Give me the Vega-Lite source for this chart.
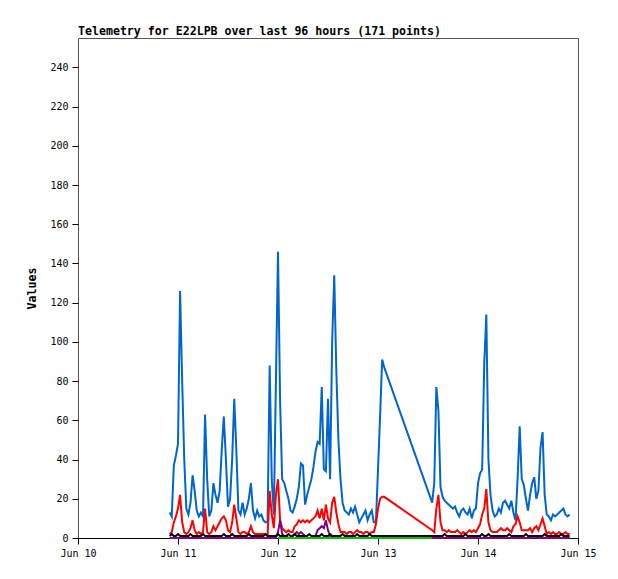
{
  "$schema": "https://vega.github.io/schema/vega-lite/v6.json",
  "width": 500,
  "height": 500,
  "autosize": {"type": "none"},
  "padding": {"left": 78, "top": 38, "right": 40, "bottom": 41},
  "background": "white",
  "title": {
    "text": "Telemetry for E22LPB over last 96 hours (171 points)",
    "anchor": "start",
    "frame": "group",
    "font": "DejaVu Sans Mono",
    "fontSize": 11.6,
    "fontWeight": "bold",
    "color": "black",
    "offset": 0
  },
  "data": {
    "values": [
      {"t": "2023-06-10T22:00:00Z", "b": 13, "r": 2, "p": 0, "k": 1},
      {"t": "2023-06-10T22:30:00Z", "b": 11, "r": 3, "p": 0, "k": 2},
      {"t": "2023-06-10T23:00:00Z", "b": 37, "r": 8, "p": 0, "k": 1},
      {"t": "2023-06-10T23:30:00Z", "b": 42, "r": 11, "p": 0, "k": 1},
      {"t": "2023-06-11T00:00:00Z", "b": 48, "r": 15, "p": 0, "k": 2},
      {"t": "2023-06-11T00:30:00Z", "b": 126, "r": 22, "p": 0, "k": 1},
      {"t": "2023-06-11T01:00:00Z", "b": 80, "r": 8, "p": 0, "k": 1},
      {"t": "2023-06-11T01:30:00Z", "b": 40, "r": 3, "p": 0, "k": 1},
      {"t": "2023-06-11T02:00:00Z", "b": 15, "r": 2, "p": 0, "k": 1},
      {"t": "2023-06-11T02:30:00Z", "b": 12, "r": 3, "p": 0, "k": 1},
      {"t": "2023-06-11T03:00:00Z", "b": 18, "r": 5, "p": 0, "k": 2},
      {"t": "2023-06-11T03:30:00Z", "b": 32, "r": 9, "p": 0, "k": 1},
      {"t": "2023-06-11T04:00:00Z", "b": 24, "r": 4, "p": 0, "k": 1},
      {"t": "2023-06-11T04:30:00Z", "b": 14, "r": 2, "p": 0, "k": 1},
      {"t": "2023-06-11T05:00:00Z", "b": 11, "r": 3, "p": 0, "k": 1},
      {"t": "2023-06-11T05:30:00Z", "b": 13, "r": 2, "p": 0, "k": 1},
      {"t": "2023-06-11T06:00:00Z", "b": 11, "r": 3, "p": 0, "k": 2},
      {"t": "2023-06-11T06:30:00Z", "b": 63, "r": 15, "p": 0, "k": 1},
      {"t": "2023-06-11T07:00:00Z", "b": 30, "r": 3, "p": 0, "k": 1},
      {"t": "2023-06-11T07:30:00Z", "b": 11, "r": 2, "p": 0, "k": 1},
      {"t": "2023-06-11T08:00:00Z", "b": 14, "r": 3, "p": 0, "k": 1},
      {"t": "2023-06-11T08:30:00Z", "b": 28, "r": 6, "p": 0, "k": 1},
      {"t": "2023-06-11T09:00:00Z", "b": 22, "r": 4, "p": 0, "k": 1},
      {"t": "2023-06-11T09:30:00Z", "b": 18, "r": 6, "p": 0, "k": 1},
      {"t": "2023-06-11T10:00:00Z", "b": 24, "r": 8, "p": 0, "k": 1},
      {"t": "2023-06-11T10:30:00Z", "b": 45, "r": 10, "p": 0, "k": 1},
      {"t": "2023-06-11T11:00:00Z", "b": 62, "r": 11, "p": 0, "k": 2},
      {"t": "2023-06-11T11:30:00Z", "b": 40, "r": 9, "p": 0, "k": 1},
      {"t": "2023-06-11T12:00:00Z", "b": 16, "r": 4, "p": 0, "k": 1},
      {"t": "2023-06-11T12:30:00Z", "b": 20, "r": 3, "p": 0, "k": 1},
      {"t": "2023-06-11T13:00:00Z", "b": 40, "r": 8, "p": 0, "k": 2},
      {"t": "2023-06-11T13:30:00Z", "b": 71, "r": 17, "p": 0, "k": 1},
      {"t": "2023-06-11T14:00:00Z", "b": 45, "r": 10, "p": 0, "k": 1},
      {"t": "2023-06-11T14:30:00Z", "b": 14, "r": 3, "p": 0, "k": 1},
      {"t": "2023-06-11T15:00:00Z", "b": 12, "r": 2, "p": 0, "k": 1},
      {"t": "2023-06-11T15:30:00Z", "b": 18, "r": 3, "p": 0, "k": 1},
      {"t": "2023-06-11T16:00:00Z", "b": 12, "r": 3, "p": 0, "k": 1},
      {"t": "2023-06-11T16:30:00Z", "b": 15, "r": 2, "p": 0, "k": 1},
      {"t": "2023-06-11T17:00:00Z", "b": 20, "r": 3, "p": 0, "k": 2},
      {"t": "2023-06-11T17:30:00Z", "b": 28, "r": 6, "p": 0, "k": 1},
      {"t": "2023-06-11T18:00:00Z", "b": 14, "r": 3, "p": 0, "k": 1},
      {"t": "2023-06-11T18:30:00Z", "b": 10, "r": 2, "p": 0, "k": 1},
      {"t": "2023-06-11T19:00:00Z", "b": 14, "r": 2, "p": 0, "k": 1},
      {"t": "2023-06-11T19:30:00Z", "b": 11, "r": 2, "p": 0, "k": 1},
      {"t": "2023-06-11T20:00:00Z", "b": 12, "r": 2, "p": 0, "k": 1},
      {"t": "2023-06-11T20:30:00Z", "b": 9, "r": 2, "p": 0, "k": 1},
      {"t": "2023-06-11T21:00:00Z", "b": 8, "r": 2, "p": 0, "k": 2},
      {"t": "2023-06-11T21:30:00Z", "b": 8, "r": 1, "p": 0, "k": 1},
      {"t": "2023-06-11T22:00:00Z", "b": 88, "r": 24, "p": 0, "k": 1},
      {"t": "2023-06-11T22:30:00Z", "b": 30, "r": 12, "p": 0, "k": 1},
      {"t": "2023-06-11T23:00:00Z", "b": 12, "r": 5, "p": 0, "k": 1},
      {"t": "2023-06-11T23:30:00Z", "b": 80, "r": 22, "p": 0, "k": 1},
      {"t": "2023-06-12T00:00:00Z", "b": 146, "r": 30, "p": 3, "g": 0, "k": 2},
      {"t": "2023-06-12T00:30:00Z", "b": 70, "r": 9, "p": 9, "g": 0, "k": 1},
      {"t": "2023-06-12T01:00:00Z", "b": 30, "r": 5, "p": 2, "g": 0, "k": 1},
      {"t": "2023-06-12T01:30:00Z", "b": 28, "r": 4, "p": 1, "g": 0, "k": 1},
      {"t": "2023-06-12T02:00:00Z", "b": 24, "r": 3, "p": 1, "g": 0, "k": 1},
      {"t": "2023-06-12T02:30:00Z", "b": 20, "r": 4, "p": 0, "g": 0, "k": 2},
      {"t": "2023-06-12T03:00:00Z", "b": 14, "r": 3, "p": 0, "g": 0, "k": 1},
      {"t": "2023-06-12T03:30:00Z", "b": 13, "r": 3, "p": 1, "g": 0, "k": 1},
      {"t": "2023-06-12T04:00:00Z", "b": 16, "r": 6, "p": 2, "g": 0, "k": 2},
      {"t": "2023-06-12T04:30:00Z", "b": 20, "r": 7, "p": 3, "g": 0, "k": 1},
      {"t": "2023-06-12T05:00:00Z", "b": 26, "r": 9, "p": 2, "g": 0, "k": 1},
      {"t": "2023-06-12T05:30:00Z", "b": 38, "r": 8, "p": 3, "g": 0, "k": 1},
      {"t": "2023-06-12T06:00:00Z", "b": 37, "r": 9, "p": 2, "g": 0, "k": 1},
      {"t": "2023-06-12T06:30:00Z", "b": 17, "r": 8, "p": 1, "g": 0, "k": 1},
      {"t": "2023-06-12T07:00:00Z", "b": 22, "r": 9, "p": 0, "g": 0, "k": 1},
      {"t": "2023-06-12T07:30:00Z", "b": 26, "r": 8, "p": 0, "g": 0, "k": 2},
      {"t": "2023-06-12T08:00:00Z", "b": 30, "r": 9, "p": 0, "g": 0, "k": 1},
      {"t": "2023-06-12T08:30:00Z", "b": 36, "r": 10, "p": 0, "g": 0, "k": 1},
      {"t": "2023-06-12T09:00:00Z", "b": 44, "r": 11, "p": 1, "g": 0, "k": 1},
      {"t": "2023-06-12T09:30:00Z", "b": 49, "r": 14, "p": 4, "g": 0, "k": 1},
      {"t": "2023-06-12T10:00:00Z", "b": 48, "r": 10, "p": 5, "g": 0, "k": 1},
      {"t": "2023-06-12T10:30:00Z", "b": 77, "r": 15, "p": 6, "g": 0, "k": 2},
      {"t": "2023-06-12T11:00:00Z", "b": 35, "r": 9, "p": 5, "g": 0, "k": 1},
      {"t": "2023-06-12T11:30:00Z", "b": 34, "r": 17, "p": 9, "g": 0, "k": 1},
      {"t": "2023-06-12T12:00:00Z", "b": 71, "r": 10, "p": 4, "g": 0, "k": 1},
      {"t": "2023-06-12T12:30:00Z", "b": 30, "r": 8, "p": 1, "g": 0, "k": 2},
      {"t": "2023-06-12T13:00:00Z", "b": 100, "r": 18, "p": 0, "g": 0, "k": 1},
      {"t": "2023-06-12T13:30:00Z", "b": 134, "r": 21, "p": 0, "g": 0, "k": 1},
      {"t": "2023-06-12T14:00:00Z", "b": 85, "r": 13, "p": 0, "g": 0, "k": 1},
      {"t": "2023-06-12T14:30:00Z", "b": 50, "r": 7, "p": 0, "g": 0, "k": 1},
      {"t": "2023-06-12T15:00:00Z", "b": 30, "r": 3, "p": 0, "g": 0, "k": 1},
      {"t": "2023-06-12T15:30:00Z", "b": 18, "r": 3, "p": 0, "g": 0, "k": 2},
      {"t": "2023-06-12T16:00:00Z", "b": 14, "r": 3, "p": 0, "g": 0, "k": 1},
      {"t": "2023-06-12T16:30:00Z", "b": 13, "r": 2, "p": 0, "g": 0, "k": 1},
      {"t": "2023-06-12T17:00:00Z", "b": 12, "r": 3, "p": 0, "g": 0, "k": 1},
      {"t": "2023-06-12T17:30:00Z", "b": 15, "r": 3, "p": 0, "g": 0, "k": 1},
      {"t": "2023-06-12T18:00:00Z", "b": 13, "r": 2, "p": 0, "g": 0, "k": 1},
      {"t": "2023-06-12T18:30:00Z", "b": 16, "r": 3, "p": 0, "g": 0, "k": 1},
      {"t": "2023-06-12T19:00:00Z", "b": 12, "r": 4, "p": 0, "g": 0, "k": 2},
      {"t": "2023-06-12T19:30:00Z", "b": 8, "r": 3, "p": 0, "g": 0, "k": 1},
      {"t": "2023-06-12T20:00:00Z", "b": 10, "r": 3, "p": 0, "g": 0, "k": 1},
      {"t": "2023-06-12T20:30:00Z", "b": 12, "r": 2, "p": 0, "g": 0, "k": 1},
      {"t": "2023-06-12T21:00:00Z", "b": 14, "r": 3, "p": 0, "g": 0, "k": 1},
      {"t": "2023-06-12T21:30:00Z", "b": 9, "r": 3, "p": 0, "g": 0, "k": 1},
      {"t": "2023-06-12T22:00:00Z", "b": 12, "r": 2, "p": 0, "g": 0, "k": 2},
      {"t": "2023-06-12T22:30:00Z", "b": 14, "r": 3, "p": 0, "g": 0, "k": 1},
      {"t": "2023-06-12T23:00:00Z", "b": 8, "r": 3, "p": 0, "g": 0, "k": 1},
      {"t": "2023-06-12T23:30:00Z", "b": 8, "r": 7, "p": 0, "g": 0, "k": 1},
      {"t": "2023-06-13T00:00:00Z", "b": 35, "r": 15, "p": 0, "g": 0, "k": 1},
      {"t": "2023-06-13T00:30:00Z", "b": 62, "r": 20, "p": 0, "g": 0, "k": 1},
      {"t": "2023-06-13T01:00:00Z", "b": 91, "r": 21, "p": 0, "g": 0, "k": 1},
      {"t": "2023-06-13T01:30:00Z", "b": 87, "r": 21, "p": 0, "g": 0, "k": 1},
      {"t": "2023-06-13T13:00:00Z", "b": 18, "r": 4, "p": 0, "g": 0, "k": 1},
      {"t": "2023-06-13T13:30:00Z", "b": 28, "r": 3, "p": 0, "k": 1},
      {"t": "2023-06-13T14:00:00Z", "b": 77, "r": 15, "p": 0, "k": 1},
      {"t": "2023-06-13T14:30:00Z", "b": 65, "r": 22, "p": 0, "k": 1},
      {"t": "2023-06-13T15:00:00Z", "b": 26, "r": 8, "p": 0, "k": 1},
      {"t": "2023-06-13T15:30:00Z", "b": 21, "r": 4, "p": 0, "k": 1},
      {"t": "2023-06-13T16:00:00Z", "b": 19, "r": 4, "p": 0, "k": 2},
      {"t": "2023-06-13T16:30:00Z", "b": 18, "r": 3, "p": 0, "k": 1},
      {"t": "2023-06-13T17:00:00Z", "b": 17, "r": 4, "p": 0, "k": 1},
      {"t": "2023-06-13T17:30:00Z", "b": 16, "r": 3, "p": 0, "k": 1},
      {"t": "2023-06-13T18:00:00Z", "b": 15, "r": 3, "p": 0, "k": 1},
      {"t": "2023-06-13T18:30:00Z", "b": 16, "r": 3, "p": 0, "k": 1},
      {"t": "2023-06-13T19:00:00Z", "b": 13, "r": 4, "p": 0, "k": 1},
      {"t": "2023-06-13T19:30:00Z", "b": 11, "r": 3, "p": 0, "k": 1},
      {"t": "2023-06-13T20:00:00Z", "b": 14, "r": 2, "p": 0, "k": 1},
      {"t": "2023-06-13T20:30:00Z", "b": 15, "r": 3, "p": 0, "k": 1},
      {"t": "2023-06-13T21:00:00Z", "b": 13, "r": 2, "p": 0, "k": 2},
      {"t": "2023-06-13T21:30:00Z", "b": 12, "r": 3, "p": 0, "k": 1},
      {"t": "2023-06-13T22:00:00Z", "b": 15, "r": 4, "p": 0, "k": 1},
      {"t": "2023-06-13T22:30:00Z", "b": 10, "r": 3, "p": 0, "k": 1},
      {"t": "2023-06-13T23:00:00Z", "b": 14, "r": 4, "p": 0, "k": 1},
      {"t": "2023-06-13T23:30:00Z", "b": 15, "r": 3, "p": 0, "k": 1},
      {"t": "2023-06-14T00:00:00Z", "b": 28, "r": 5, "p": 0, "k": 1},
      {"t": "2023-06-14T00:30:00Z", "b": 33, "r": 7, "p": 0, "k": 1},
      {"t": "2023-06-14T01:00:00Z", "b": 35, "r": 12, "p": 0, "k": 2},
      {"t": "2023-06-14T01:30:00Z", "b": 89, "r": 15, "p": 0, "k": 1},
      {"t": "2023-06-14T02:00:00Z", "b": 114, "r": 25, "p": 0, "k": 1},
      {"t": "2023-06-14T02:30:00Z", "b": 40, "r": 8, "p": 0, "k": 2},
      {"t": "2023-06-14T03:00:00Z", "b": 22, "r": 4, "p": 0, "k": 1},
      {"t": "2023-06-14T03:30:00Z", "b": 14, "r": 3, "p": 0, "k": 1},
      {"t": "2023-06-14T04:00:00Z", "b": 11, "r": 3, "p": 0, "k": 1},
      {"t": "2023-06-14T04:30:00Z", "b": 12, "r": 3, "p": 0, "k": 1},
      {"t": "2023-06-14T05:00:00Z", "b": 15, "r": 4, "p": 0, "k": 1},
      {"t": "2023-06-14T05:30:00Z", "b": 13, "r": 5, "p": 0, "k": 1},
      {"t": "2023-06-14T06:00:00Z", "b": 18, "r": 4, "p": 0, "k": 1},
      {"t": "2023-06-14T06:30:00Z", "b": 19, "r": 4, "p": 0, "k": 1},
      {"t": "2023-06-14T07:00:00Z", "b": 17, "r": 5, "p": 0, "k": 1},
      {"t": "2023-06-14T07:30:00Z", "b": 15, "r": 4, "p": 0, "k": 2},
      {"t": "2023-06-14T08:00:00Z", "b": 19, "r": 3, "p": 0, "k": 1},
      {"t": "2023-06-14T08:30:00Z", "b": 13, "r": 6, "p": 0, "k": 1},
      {"t": "2023-06-14T09:00:00Z", "b": 9, "r": 7, "p": 0, "k": 1},
      {"t": "2023-06-14T09:30:00Z", "b": 30, "r": 11, "p": 0, "k": 1},
      {"t": "2023-06-14T10:00:00Z", "b": 57, "r": 8, "p": 0, "k": 1},
      {"t": "2023-06-14T10:30:00Z", "b": 30, "r": 4, "p": 0, "k": 1},
      {"t": "2023-06-14T11:00:00Z", "b": 27, "r": 4, "p": 0, "k": 1},
      {"t": "2023-06-14T11:30:00Z", "b": 20, "r": 4, "p": 0, "k": 2},
      {"t": "2023-06-14T12:00:00Z", "b": 14, "r": 4, "p": 0, "k": 1},
      {"t": "2023-06-14T12:30:00Z", "b": 22, "r": 5, "p": 0, "k": 1},
      {"t": "2023-06-14T13:00:00Z", "b": 28, "r": 3, "p": 0, "k": 1},
      {"t": "2023-06-14T13:30:00Z", "b": 31, "r": 5, "p": 1, "k": 1},
      {"t": "2023-06-14T14:00:00Z", "b": 20, "r": 6, "p": 0, "k": 1},
      {"t": "2023-06-14T14:30:00Z", "b": 24, "r": 4, "p": 0, "k": 1},
      {"t": "2023-06-14T15:00:00Z", "b": 46, "r": 7, "p": 0, "k": 1},
      {"t": "2023-06-14T15:30:00Z", "b": 54, "r": 10, "p": 0, "k": 1},
      {"t": "2023-06-14T16:00:00Z", "b": 22, "r": 6, "p": 0, "k": 2},
      {"t": "2023-06-14T16:30:00Z", "b": 12, "r": 2, "p": 0, "k": 1},
      {"t": "2023-06-14T17:00:00Z", "b": 11, "r": 3, "p": 0, "k": 1},
      {"t": "2023-06-14T17:30:00Z", "b": 9, "r": 2, "p": 0, "k": 1},
      {"t": "2023-06-14T18:00:00Z", "b": 12, "r": 3, "p": 0, "k": 1},
      {"t": "2023-06-14T18:30:00Z", "b": 11, "r": 2, "p": 0, "k": 1},
      {"t": "2023-06-14T19:00:00Z", "b": 12, "r": 2, "p": 0, "k": 1},
      {"t": "2023-06-14T19:30:00Z", "b": 13, "r": 3, "p": 0, "k": 1},
      {"t": "2023-06-14T20:00:00Z", "b": 14, "r": 2, "p": 0, "k": 2},
      {"t": "2023-06-14T20:30:00Z", "b": 15, "r": 2, "p": 0, "k": 1},
      {"t": "2023-06-14T21:00:00Z", "b": 12, "r": 3, "p": 0, "k": 1},
      {"t": "2023-06-14T21:30:00Z", "b": 11, "r": 2, "p": 0, "k": 1},
      {"t": "2023-06-14T22:00:00Z", "b": 12, "r": 2, "p": 0, "k": 1}
    ]
  },
  "encoding": {
    "x": {
      "field": "t",
      "type": "temporal",
      "title": null,
      "scale": {
        "type": "utc",
        "nice": false,
        "domain": [
          {"year": 2023, "month": 6, "date": 10, "utc": true},
          {"year": 2023, "month": 6, "date": 15, "utc": true}
        ]
      },
      "axis": {
        "values": [
          {"year": 2023, "month": 6, "date": 10, "utc": true},
          {"year": 2023, "month": 6, "date": 11, "utc": true},
          {"year": 2023, "month": 6, "date": 12, "utc": true},
          {"year": 2023, "month": 6, "date": 13, "utc": true},
          {"year": 2023, "month": 6, "date": 14, "utc": true},
          {"year": 2023, "month": 6, "date": 15, "utc": true}
        ],
        "labelExpr": "utcFormat(datum.value, '%b %d')",
        "grid": false,
        "domainColor": "black",
        "tickColor": "black",
        "tickSize": 6,
        "labelPadding": 4,
        "labelFlush": false,
        "labelOverlap": false
      }
    }
  },
  "layer": [
    {
      "mark": {"type": "line", "color": "#0066CC", "strokeWidth": 2},
      "encoding": {
        "y": {"field": "b", "type": "quantitative", "title": "Values", "scale": {"domain": [0, 255], "nice": false}}
      }
    },
    {
      "mark": {"type": "line", "color": "#FF0000", "strokeWidth": 2},
      "encoding": {
        "y": {"field": "r", "type": "quantitative", "title": "Values", "scale": {"domain": [0, 255], "nice": false}}
      }
    },
    {
      "mark": {"type": "line", "color": "#800080", "strokeWidth": 2},
      "encoding": {
        "y": {"field": "p", "type": "quantitative", "title": "Values", "scale": {"domain": [0, 255], "nice": false}}
      }
    },
    {
      "transform": [{"filter": "isValid(datum.g)"}],
      "mark": {"type": "line", "color": "#00C000", "strokeWidth": 2},
      "encoding": {
        "y": {"field": "g", "type": "quantitative", "title": "Values", "scale": {"domain": [0, 255], "nice": false}}
      }
    },
    {
      "mark": {"type": "line", "color": "#000000", "strokeWidth": 2},
      "encoding": {
        "y": {"field": "k", "type": "quantitative", "title": "Values", "scale": {"domain": [0, 255], "nice": false}}
      }
    }
  ],
  "config": {
    "view": {"stroke": "#555555", "strokeWidth": 1},
    "axis": {
      "labelFont": "DejaVu Sans Mono",
      "labelFontSize": 10,
      "labelColor": "black"
    },
    "axisY": {
      "values": [0, 20, 40, 60, 80, 100, 120, 140, 160, 180, 200, 220, 240],
      "grid": false,
      "domain": false,
      "tickColor": "black",
      "tickSize": 6,
      "labelPadding": 4,
      "titlePadding": 12,
      "titleFont": "DejaVu Sans Mono",
      "titleFontSize": 11.6,
      "titleFontWeight": "bold",
      "titleColor": "black"
    }
  }
}
